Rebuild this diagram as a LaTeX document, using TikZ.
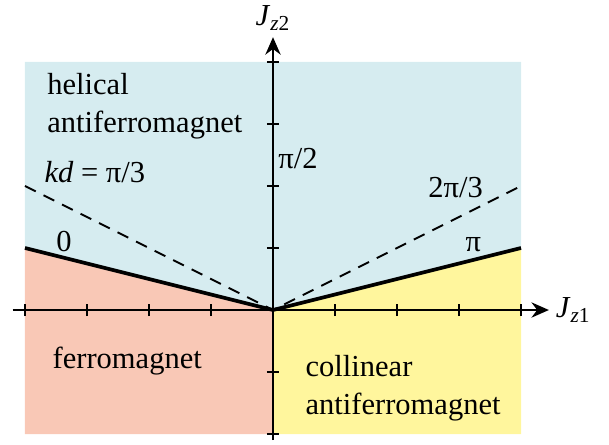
\documentclass[tikz,border=0pt]{standalone}
\usepackage{fontspec}
\setmainfont{Liberation Serif}
\usetikzlibrary{arrows.meta}

\definecolor{helblue}{RGB}{214,236,240}
\definecolor{ferpink}{RGB}{249,200,182}
\definecolor{colyellow}{RGB}{255,246,157}

\begin{document}
\begin{tikzpicture}[
        axis/.style     = {draw, line width=1pt, -{Stealth[length=8pt,width=7pt]}},
        tick/.style     = {draw, line width=1pt},
        border/.style   = {draw, line width=1.7pt},
        spiral/.style   = {draw, line width=0.9pt, dash pattern=on 5.5pt off 4pt},
        lbl/.style      = {inner sep=0pt, font=\fontsize{14}{17.5}\selectfont}
    ]
        \useasboundingbox (-4.403,-2.177) rectangle (5.419,5.0);

        % regions
        \fill [helblue]   (-4,1) -- (0,0) -- (4,1) -- (4,4) -- (-4,4) -- cycle;
        \fill [ferpink]   (-4,-2) -- (0,-2) -- (0,0) -- (-4,1) -- cycle;
        \fill [colyellow] (0,-2) -- (4,-2) -- (4,1) -- (0,0) -- cycle;

        % ticks
        \foreach \x in {-4,-3,-2,-1,1,2,3,4}
            \path [tick] (\x,-0.1) -- (\x,0.1);
        \foreach \y in {-2,-1,1,2,3,4}
            \path [tick] (-0.1,\y) -- (0.1,\y);

        % axes
        \coordinate (o) at (0,0);
        \coordinate (xend) at (4.45,0);
        \coordinate (yend) at (0,4.4);
        \path [axis] (-4.2,0) -- (xend);
        \path [axis] (0,-2.1) -- (yend);
        \node [lbl, anchor=west]  (jz1) at ([xshift=3pt]xend) {\textit{J}\textsubscript{\textit{z}1}};
        \node [lbl, anchor=south] (jz2) at ([yshift=3pt]yend) {\textit{J}\textsubscript{\textit{z}2}};

        % phase borders
        \coordinate (bl) at (-4,1);
        \coordinate (br) at (4,1);
        \coordinate (dl) at (-4,2);
        \coordinate (dr) at (4,2);
        \path [border] (bl) -- (o) -- (br);
        \path [spiral] (dl) -- (o) -- (dr);

        % labels
        \node [lbl, anchor=north west, align=left] (hel) at (-3.645,3.82) {helical\\antiferromagnet};
        \node [lbl, anchor=base west] (kd)   at (-3.69,2.05) {\textit{kd} = π/3};
        \node [lbl, anchor=base west] (half) at (0.08,2.29) {π/2};
        \node [lbl, anchor=base west] (twot) at (2.5,1.82)  {2π/3};
        \node [lbl, anchor=base]      (pi)   at (3.23,0.94) {π};
        \node [lbl, anchor=base]      (zero) at (-3.37,0.94) {0};
        \node [lbl, anchor=base west] (fer)  at (-3.56,-0.94) {ferromagnet};
        \node [lbl, anchor=north west, align=left] (col) at (0.52,-0.72) {collinear\\antiferromagnet};
    \end{tikzpicture}
\end{document}
